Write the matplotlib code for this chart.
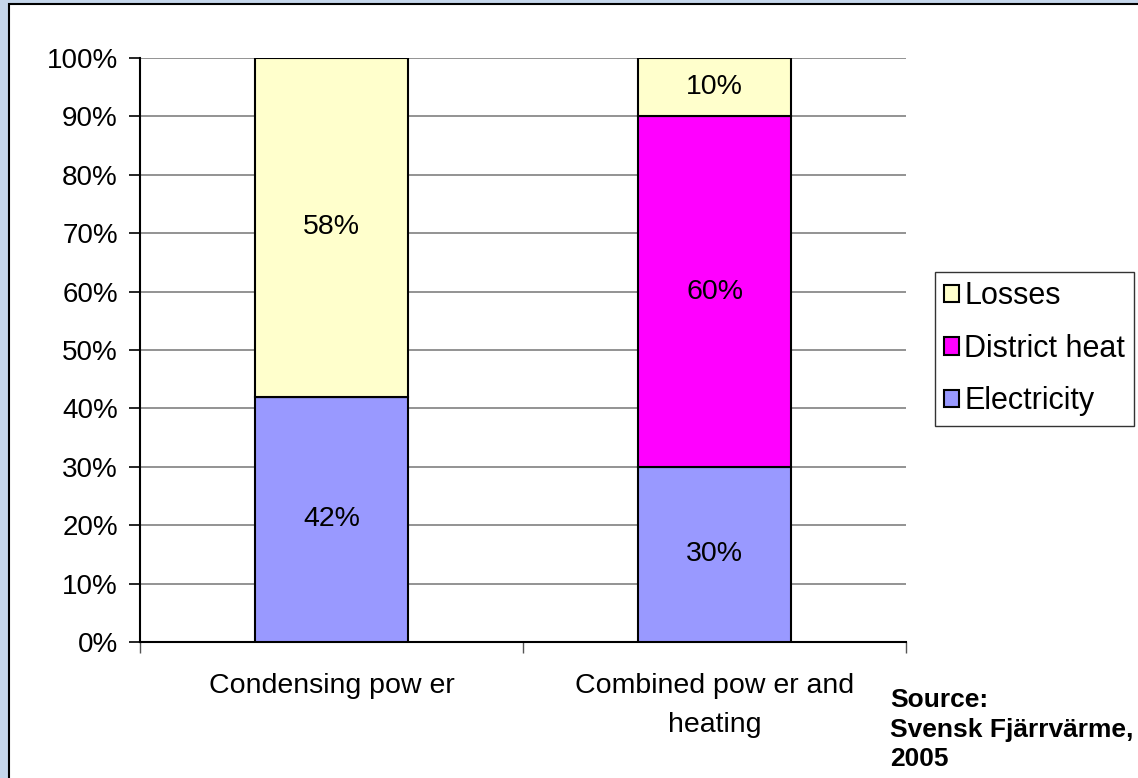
import matplotlib
matplotlib.use("Agg")
import matplotlib.pyplot as plt
from matplotlib.patches import Rectangle, Patch

categories = ["Condensing pow er", "Combined pow er and\nheating"]
electricity = [42, 30]
district_heat = [0, 60]
losses = [58, 10]
series_names = ["Electricity", "District heat", "Losses"]
colors = ["#9999FF", "#FF00FF", "#FFFFCC"]
yticks = list(range(0, 101, 10))

plt.rcParams['font.family'] = ['Liberation Sans', 'DejaVu Sans']

fig = plt.figure(figsize=(11.38, 7.78), dpi=100)
fig.patch.set_facecolor("#C5D6EB")
bg = fig.add_axes([0, 0, 1, 1], zorder=-5)
bg.set_axis_off()
bg.set_xlim(0, 1)
bg.set_ylim(0, 1)
bg.add_patch(Rectangle((9/1138, -0.1), 1.2, 1 - 4/778 + 0.1,
                       facecolor="white", edgecolor="black", linewidth=1.5))

ax = fig.add_axes([140/1138, 1 - 642/778, (906-140)/1138, (642-58)/778])
ax.set_facecolor("none")
x = list(range(len(categories)))
series = [electricity, district_heat, losses]
bottom = [0]*len(categories)
for vals, name, c in zip(series, series_names, colors):
    ax.bar(x, vals, width=0.4, bottom=bottom, color=c, edgecolor="black", linewidth=1.5,
           label=name, zorder=3)
    for xi, v, b in zip(x, vals, bottom):
        if v > 0:
            ax.text(xi, b + v/2, f"{v}%", ha="center", va="center", fontsize=20.5, zorder=4)
    bottom = [b + v for b, v in zip(bottom, vals)]

ax.set_xlim(-0.5, len(categories) - 0.5)
ax.set_ylim(0, 100)
ax.set_yticks(yticks)
ax.set_yticklabels([f"{t}%" for t in yticks], fontsize=20)
ax.yaxis.grid(True, color="#808080", linewidth=1.2, zorder=0)
ax.set_axisbelow(True)
ax.tick_params(axis="y", length=8, width=1.2, pad=8)
ax.set_xticks(x)
ax.set_xticklabels(categories, fontsize=20.5, linespacing=1.65)
ax.tick_params(axis="x", which="major", length=0, pad=22)
ax.set_xticks([i - 0.5 for i in range(len(categories) + 1)], minor=True)
ax.tick_params(axis="x", which="minor", length=8, width=1, color="#555555")
for s in ["top", "right"]:
    ax.spines[s].set_visible(False)
ax.spines["left"].set_linewidth(1.5)
ax.spines["bottom"].set_linewidth(1.5)

handles = [Patch(facecolor=c, edgecolor="black", linewidth=1.5, label=n)
           for n, c in zip(series_names, colors)][::-1]
leg = fig.legend(handles=handles, loc="upper left", bbox_to_anchor=(935/1138, 1 - 272/778),
                 frameon=True, fancybox=False, fontsize=22, handlelength=0.5, handleheight=0.5,
                 handletextpad=0.15, labelspacing=0.74, borderpad=0.3, borderaxespad=0)
leg.get_frame().set_edgecolor("black")
leg.get_frame().set_linewidth(1)

fig.text(890/1138, 1 - 688/778, "Source:\nSvensk Fjärrvärme,\n2005", fontsize=19, fontweight="bold",
         ha="left", va="top", linespacing=1.3)

fig.savefig("out.png", dpi=100)
